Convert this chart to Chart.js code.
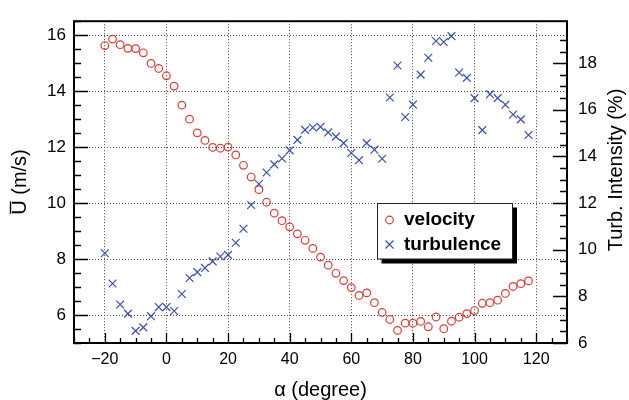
<!DOCTYPE html>
<html>
<head>
<meta charset="utf-8">
<script src="https://cdn.jsdelivr.net/npm/chart.js@4"></script>
<style>
  body { margin: 0; background: #fff; }
  canvas { display: block; }
</style>
</head>
<body>
<canvas id="grafica" width="629" height="400"></canvas>
<script>
// Datos
const angulos = [-20, -17.5, -15, -12.5, -10, -7.5, -5, -2.5, 0, 2.5, 5, 7.5, 10, 12.5, 15, 17.5,
  20, 22.5, 25, 27.5, 30, 32.5, 35, 37.5, 40, 42.5, 45, 47.5, 50, 52.5, 55, 57.5, 60, 62.5, 65, 67.5,
  70, 72.5, 75, 77.5, 80, 82.5, 85, 87.5, 90, 92.5, 95, 97.5, 100, 102.5, 105, 107.5, 110, 112.5, 115, 117.5];

const velocidad = [15.63, 15.86, 15.66, 15.53, 15.52, 15.37, 14.99, 14.81, 14.55, 14.18, 13.50, 13.00,
  12.51, 12.24, 11.99, 11.96, 12.00, 11.72, 11.35, 10.93, 10.48, 10.03, 9.64, 9.37, 9.15, 8.90, 8.67,
  8.38, 8.07, 7.78, 7.49, 7.23, 6.98, 6.70, 6.79, 6.44, 6.09, 5.84, 5.45, 5.71, 5.71, 5.77, 5.58, 5.93,
  5.51, 5.78, 5.92, 6.05, 6.16, 6.42, 6.44, 6.53, 6.77, 7.02, 7.12, 7.22];

const turbulencia = [9.85, 8.55, 7.65, 7.26, 6.52, 6.67, 7.15, 7.54, 7.54, 7.37, 8.10, 8.79, 9.04, 9.22,
  9.50, 9.71, 9.78, 10.30, 10.90, 11.92, 12.82, 13.31, 13.66, 13.91, 14.26, 14.71, 15.14, 15.24, 15.27,
  15.03, 14.85, 14.57, 14.15, 13.84, 14.57, 14.29, 13.90, 16.53, 17.90, 15.69, 16.22, 17.51, 18.23, 18.95,
  18.91, 19.16, 17.60, 17.37, 16.50, 15.13, 16.67, 16.50, 16.22, 15.80, 15.59, 14.92];

const etiquetas = ['velocity', 'turbulence'];
const titulos = { x: 'α (degree)', y: 'U (m/s)', y2: 'Turb. Intensity (%)' };

const ROJO = '#e6372f';
const AZUL = '#3b4fb2';
const FUENTE = "'Liberation Sans', Arial, Helvetica, sans-serif";

function esMultiplo(v, m) {
  return Math.abs(v / m - Math.round(v / m)) < 1e-6;
}

// marco, ticks hacia dentro, titulos y leyenda al estilo ROOT
const marcoRoot = {
  id: 'marcoRoot',
  afterDraw(chart) {
    const ctx = chart.ctx;
    const a = chart.chartArea;
    const sx = chart.scales.x, sy = chart.scales.y, sy2 = chart.scales.y2;
    ctx.save();
    ctx.strokeStyle = '#000';

    // ticks
    ctx.lineWidth = 1.3;
    ctx.beginPath();
    sx.ticks.forEach(t => {
      if (!esMultiplo(t.value, 5)) return;
      const px = Math.round(sx.getPixelForValue(t.value)) + 0.5;
      const l = esMultiplo(t.value, 20) ? 10 : 5;
      ctx.moveTo(px, a.bottom); ctx.lineTo(px, a.bottom - l);
    });
    sy.ticks.forEach(t => {
      if (!esMultiplo(t.value, 0.5)) return;
      const py = Math.round(sy.getPixelForValue(t.value)) + 0.5;
      const l = esMultiplo(t.value, 2) ? 14 : 7;
      ctx.moveTo(a.left, py); ctx.lineTo(a.left + l, py);
    });
    sy2.ticks.forEach(t => {
      if (!esMultiplo(t.value, 0.5)) return;
      const py = Math.round(sy2.getPixelForValue(t.value)) + 0.5;
      const l = esMultiplo(t.value, 2) ? 14 : 7;
      ctx.moveTo(a.right, py); ctx.lineTo(a.right - l, py);
    });
    ctx.stroke();

    // marco
    ctx.lineWidth = 2;
    ctx.strokeRect(a.left, a.top, a.right - a.left, a.bottom - a.top);

    // titulos de ejes
    ctx.fillStyle = '#000';
    ctx.font = '20px ' + FUENTE;
    ctx.textAlign = 'center';
    ctx.textBaseline = 'middle';
    ctx.fillText(titulos.x, (a.left + a.right) / 2, 390);

    ctx.save();
    ctx.translate(20, 182);
    ctx.rotate(-Math.PI / 2);
    ctx.fillText(titulos.y, 0, 0);
    // raya sobre la U
    const w = ctx.measureText(titulos.y).width;
    const wu = ctx.measureText('U').width;
    ctx.lineWidth = 1.4;
    ctx.beginPath();
    ctx.moveTo(-w / 2 + 1, -9.5);
    ctx.lineTo(-w / 2 + wu - 1, -9.5);
    ctx.stroke();
    ctx.restore();

    ctx.save();
    ctx.translate(616, 170);
    ctx.rotate(-Math.PI / 2);
    ctx.fillText(titulos.y2, 0, 0);
    ctx.restore();

    // leyenda
    const lx = 377.5, ly = 203.5, lw = 135, lh = 55.5;
    ctx.fillStyle = '#000';
    ctx.fillRect(lx + 4, ly + 4, lw + 0.5, lh + 0.5);
    ctx.fillStyle = '#fff';
    ctx.fillRect(lx, ly, lw, lh);
    ctx.lineWidth = 1;
    ctx.strokeStyle = '#222';
    ctx.strokeRect(lx, ly, lw, lh);

    ctx.lineWidth = 1.2;
    ctx.strokeStyle = ROJO;
    ctx.beginPath();
    ctx.arc(389.5, 220, 3.8, 0, Math.PI * 2);
    ctx.stroke();
    ctx.strokeStyle = AZUL;
    ctx.beginPath();
    ctx.moveTo(385.5, 240.5); ctx.lineTo(393.5, 248.5);
    ctx.moveTo(393.5, 240.5); ctx.lineTo(385.5, 248.5);
    ctx.stroke();

    ctx.fillStyle = '#000';
    ctx.font = 'bold 19px ' + FUENTE;
    ctx.textAlign = 'left';
    ctx.fillText(etiquetas[0], 404, 220);
    ctx.fillText(etiquetas[1], 404, 245);
    ctx.restore();
  }
};

const datosVel = angulos.map((a, i) => ({ x: a, y: velocidad[i] }));
const datosTurb = angulos.map((a, i) => ({ x: a, y: turbulencia[i] }));

const rejilla = (paso) => ({
  drawTicks: false,
  lineWidth: 1,
  color: c => esMultiplo(c.tick.value, paso) ? '#444' : 'rgba(0,0,0,0)'
});

new Chart(document.getElementById('grafica'), {
  type: 'scatter',
  data: {
    datasets: [{
      label: etiquetas[0],
      data: datosVel,
      pointStyle: 'circle',
      pointRadius: 3.8,
      pointBorderWidth: 1.2,
      borderColor: ROJO,
      backgroundColor: 'rgba(0,0,0,0)',
      yAxisID: 'y'
    }, {
      label: etiquetas[1],
      data: datosTurb,
      pointStyle: 'crossRot',
      pointRadius: 5.5,
      pointBorderWidth: 1.2,
      borderColor: AZUL,
      backgroundColor: AZUL,
      yAxisID: 'y2'
    }]
  },
  options: {
    responsive: false,
    animation: false,
    layout: { padding: { top: 15, left: 0, right: 0, bottom: 0 } },
    plugins: { legend: { display: false }, tooltip: { enabled: false } },
    scales: {
      x: {
        type: 'linear',
        min: -30, max: 130,
        afterFit: s => { s.height = 57; },
        border: { display: false, dash: [1, 2] },
        grid: rejilla(20),
        ticks: {
          stepSize: 5, autoSkip: false, maxRotation: 0, padding: 7,
          color: '#000', font: { family: FUENTE, size: 16 },
          callback: v => esMultiplo(v, 20) ? String(v).replace('-', '\u2212') : ''
        }
      },
      y: {
        type: 'linear', position: 'left',
        min: 5, max: 16.5,
        afterFit: s => { s.width = 74; },
        border: { display: false, dash: [1, 2] },
        grid: rejilla(2),
        ticks: {
          stepSize: 0.5, autoSkip: false, padding: 8,
          color: '#000', font: { family: FUENTE, size: 17 },
          callback: v => esMultiplo(v, 2) ? String(v) : ''
        }
      },
      y2: {
        type: 'linear', position: 'right',
        min: 6, max: 19.8,
        afterFit: s => { s.width = 62; },
        border: { display: false },
        grid: { drawTicks: false, drawOnChartArea: false },
        ticks: {
          stepSize: 0.5, autoSkip: false, padding: 11,
          color: '#000', font: { family: FUENTE, size: 17 },
          callback: v => esMultiplo(v, 2) ? String(v) : ''
        }
      }
    }
  },
  plugins: [marcoRoot]
});
</script>
</body>
</html>
